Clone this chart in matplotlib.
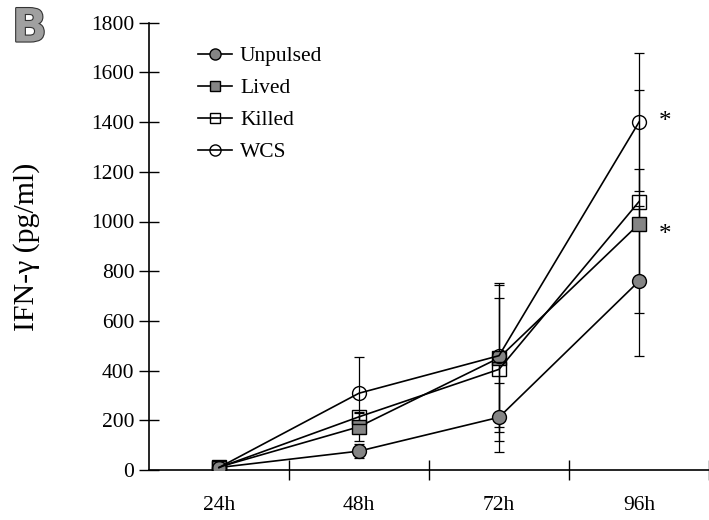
import matplotlib
matplotlib.use("Agg")
import matplotlib.pyplot as plt
import matplotlib.patheffects as pe
import numpy as np

plt.rcParams['font.family'] = ['Liberation Serif', 'DejaVu Serif']

categories = ["24h", "48h", "72h", "96h"]
unpulsed = [10, 76, 212, 760]
unpulsed_err = [5, 28, 140, 301]
lived = [12, 174, 451, 990]
lived_err = [6, 57, 300, 221]
killed = [10, 214, 405, 1080]
killed_err = [5, 21, 287, 450]
wcs = [10, 309, 460, 1400]
wcs_err = [5, 147, 285, 277]
yticks = [0, 200, 400, 600, 800, 1000, 1200, 1400, 1600, 1800]

fig = plt.figure(figsize=(7.09, 5.2), dpi=100)
ax = fig.add_axes([149/709, 50/520, 560/709, 447.3/520])

x = np.arange(len(categories))
gray = '#858585'
series = [
    ("Unpulsed", unpulsed, unpulsed_err, 'o', gray, 10),
    ("Lived", lived, lived_err, 's', gray, 9.5),
    ("Killed", killed, killed_err, 's', 'none', 9.5),
    ("WCS", wcs, wcs_err, 'o', 'none', 10),
]
for name, vals, err, mk, fc, ms in series:
    ax.errorbar(x, vals, yerr=err, fmt='none', ecolor='black', elinewidth=0.9,
                capsize=3.5, capthick=0.9, zorder=2)
    ax.plot(x, vals, color='black', lw=1.2, marker=mk, markersize=ms,
            markerfacecolor=fc, markeredgecolor='black', markeredgewidth=1.0,
            label=name, zorder=3)

ax.text(3 + 0.14, wcs[3], '*', fontsize=18, ha='left', va='center')
ax.text(3 + 0.14, lived[3] - 45, '*', fontsize=18, ha='left', va='center')

ax.set_xlim(-0.5, -0.5 + 560/141.2)
ax.set_ylim(0, 1800)
ax.set_yticks(yticks)
ax.set_yticklabels([str(v) for v in yticks])
ax.set_xticks(x)
ax.set_xticklabels(categories)
ax.set_xticks([0.5, 1.5, 2.5, 3.5], minor=True)
ax.tick_params(axis='x', which='major', length=0, pad=19, labelsize=15.5)
ax.tick_params(axis='x', which='minor', direction='inout', length=15, width=1.0)
ax.tick_params(axis='y', direction='inout', length=15, width=1.0, pad=3, labelsize=15.5)

for s in ['top', 'right']:
    ax.spines[s].set_visible(False)
ax.spines['left'].set_linewidth(1.2)
ax.spines['bottom'].set_linewidth(1.2)
ax.spines['bottom'].set_position(('data', 0))

ax.set_ylabel("IFN-γ (pg/ml)", fontsize=21.5)
ax.yaxis.set_label_coords(-0.195, 0.5)

leg = ax.legend(loc='upper left', bbox_to_anchor=(198/709, 1 - 46/520),
                bbox_transform=fig.transFigure, frameon=False, fontsize=15.5,
                handlelength=1.6, handletextpad=0.35, labelspacing=0.56,
                borderpad=0, borderaxespad=0, markerscale=0.8)

fig.text(12/709, 1 - 29/520, 'B', fontsize=33, fontweight='bold', family='DejaVu Sans',
         color='#a0a0a0', ha='left', va='center',
         path_effects=[pe.withStroke(linewidth=1.6, foreground='#333333')])

fig.savefig('out.png', dpi=100)
